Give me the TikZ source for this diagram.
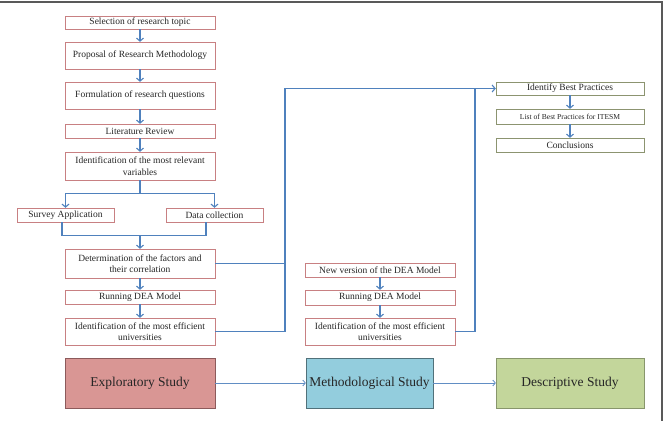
\documentclass[tikz,border=0pt]{standalone}
\usepackage{fontspec}
\setmainfont{Liberation Serif}
\usepackage{xcolor}
\usepackage{tikz}
\usetikzlibrary{arrows,arrows.meta}
\definecolor{myblue}{RGB}{79,129,189}
\definecolor{boxred}{RGB}{200,128,130}
\definecolor{boxgreen}{RGB}{140,148,112}
\definecolor{explfill}{RGB}{217,150,148}
\definecolor{methfill}{RGB}{147,205,221}
\definecolor{descfill}{RGB}{195,214,155}
\tikzstyle{redbox} = [draw=boxred,thin,fill=white,inner sep=0pt,align=center,minimum width=150pt,text=black!85,font=\fontsize{9.5}{11.5}\selectfont]
\tikzstyle{greenbox} = [redbox,draw=boxgreen]
\tikzstyle{study} = [draw,thin,inner sep=0pt,minimum height=50pt,text=black!85,font=\fontsize{13.5}{16}\selectfont]
\tikzstyle{arrow} = [myblue,line width=1.1pt,->,>={Straight Barb[length=3pt,width=7pt]}]
\tikzstyle{line} = [myblue,line width=1.1pt]
\tikzstyle{thinarrow} = [myblue!90,line width=0.8pt,->,>={Straight Barb[length=2.5pt,width=6pt]}]

\begin{document}
\begin{tikzpicture}[x=1pt,y=-1pt]
            % basics
          \useasboundingbox (0,0) rectangle (667,421);
          \draw [black!65,line width=1.3pt] (0,2) -- (662,2) -- (662,421);

            % exploratory column
          \node[redbox,minimum height=13pt] (topic) at (140,22.5) {Selection of research topic};
          \node[redbox,minimum height=27pt] (proposal) at (140,55.5) {Proposal of Research Methodology};
          \node[redbox,minimum height=27pt] (questions) at (140,95.5) {Formulation of research questions};
          \node[redbox,minimum height=14pt] (review) at (140,131) {Literature Review};
          \node[redbox,minimum height=28pt] (variables) at (140,166) {Identification of the most relevant\\variables};
          \node[redbox,minimum width=97pt,minimum height=14pt] (survey) at (65.5,215) {Survey Application};
          \node[redbox,minimum width=97pt,minimum height=14pt] (datacol) at (214.5,215) {Data collection};
          \node[redbox,minimum height=29pt] (factors) at (140,263.5) {Determination of the factors and\\their correlation};
          \node[redbox,minimum height=14pt] (dea) at (140,297) {Running DEA Model};
          \node[redbox,minimum height=27pt] (efficient) at (140,331.5) {Identification of the most efficient\\universities};

            % methodological column
          \node[redbox,minimum height=14pt] (newdea) at (380,270) {New version of the DEA Model};
          \node[redbox,minimum height=15pt] (dea2) at (380,297.5) {Running DEA Model};
          \node[redbox,minimum height=27pt] (efficient2) at (380,331.5) {Identification of the most efficient\\universities};

            % descriptive column
          \node[greenbox,minimum width=148pt,minimum height=13pt] (bestpr) at (570,88.5) {Identify Best Practices};
          \node[greenbox,minimum width=148pt,minimum height=15pt,font=\fontsize{7.6}{9}\selectfont] (list) at (570,116.5) {List of Best Practices for ITESM};
          \node[greenbox,minimum width=148pt,minimum height=14pt] (concl) at (570,145) {Conclusions};

            % studies
          \node[study,draw=boxred!70!black,fill=explfill,minimum width=150pt] (explor) at (140,383) {Exploratory Study};
          \node[study,draw=methfill!55!black,fill=methfill,minimum width=127pt] (meth) at (369.5,383) {Methodological Study};
          \node[study,draw=descfill!70!black,fill=descfill,minimum width=148pt] (desc) at (570,383) {Descriptive Study};

            % arrows
          \draw[arrow] (topic) -- (proposal);
          \draw[arrow] (proposal) -- (questions);
          \draw[arrow] (questions) -- (review);
          \draw[arrow] (review) -- (variables);
          \draw[arrow] (variables.south) -- ++(0,13) -| (survey.north);
          \draw[arrow] (variables.south) -- ++(0,13) -| (datacol.north);
          \draw[line] ([xshift=-3.5pt]survey.south) -- ++(0,13) coordinate (merge) -| ([xshift=-8.5pt]datacol.south);
          \draw[arrow] (factors.north |- merge) -- (factors.north);
          \draw[arrow] (factors) -- (dea);
          \draw[arrow] (dea) -- (efficient);
          \draw[arrow] (newdea) -- (dea2);
          \draw[arrow] (dea2) -- (efficient2);
          \draw[arrow] (bestpr) -- (list);
          \draw[arrow] (list) -- (concl);

          \coordinate (bus) at (285,88.5);
          \coordinate (join) at (475,88.5);
          \draw[line] (factors.east) -- (factors.east -| bus);
          \draw[arrow] (efficient.east) -| (bus) -- (bestpr.west);
          \draw[line] (efficient2.east) -| (join);

          \draw[thinarrow] (explor) -- (meth);
          \draw[thinarrow] (meth) -- (desc);

        \end{tikzpicture}
\end{document}
